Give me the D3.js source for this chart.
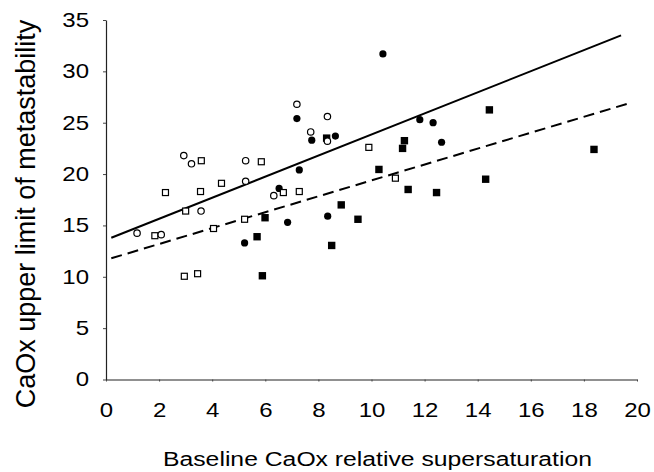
<!DOCTYPE html>
<html>
<head>
<meta charset="utf-8">
<script src="https://cdn.jsdelivr.net/npm/d3@7"></script>
<style>
  body { margin: 0; background: #fff; }
  text { font-family: "Liberation Sans", Arial, sans-serif; fill: #000; }
</style>
</head>
<body>
<div id="chart"></div>
<script>
// open circles [x, y]
const openCircles = [
  [1.17, 14.25], [2.08, 14.1], [2.93, 21.8], [3.22, 21.0], [3.58, 16.4],
  [5.26, 21.3], [5.26, 19.3], [6.32, 17.9], [7.19, 26.8], [7.71, 24.1],
  [8.34, 25.6], [8.34, 23.2]
];
// open squares
const openSquares = [
  [1.84, 14.0], [2.24, 18.2], [2.95, 10.05], [3.0, 16.4], [3.45, 10.3],
  [3.59, 21.3], [3.56, 18.3], [4.05, 14.7], [4.35, 19.1], [5.22, 15.6],
  [5.85, 21.2], [6.68, 18.2], [7.28, 18.3], [9.9, 22.6], [10.9, 19.6]
];
// filled circles
const filledCircles = [
  [5.22, 13.3], [6.52, 18.6], [6.84, 15.3], [7.19, 25.4], [7.28, 20.4],
  [7.75, 23.3], [8.64, 23.7], [8.35, 15.9], [10.43, 31.7], [11.82, 25.3],
  [12.32, 25.0], [12.64, 23.1]
];
// filled squares
const filledSquares = [
  [5.69, 13.9], [5.99, 15.75], [5.89, 10.1], [8.31, 23.5], [8.5, 13.05],
  [8.86, 17.0], [9.49, 15.6], [10.28, 20.45], [11.17, 22.5], [11.24, 23.25],
  [11.38, 18.5], [12.45, 18.2], [14.3, 19.5], [14.44, 26.25], [18.38, 22.4]
];
// regression lines (end points)
const solidLine = [[0.2, 13.8], [19.4, 33.5]];
const dashedLine = [[0.2, 11.8], [19.65, 26.85]];

const xTicks = [0, 2, 4, 6, 8, 10, 12, 14, 16, 18, 20];
const yTicks = [0, 5, 10, 15, 20, 25, 30, 35];

const width = 654, height = 472;
const margin = { top: 20, left: 106, right: 17, bottom: 92.5 };

const svg = d3.select('#chart').append('svg')
  .attr('width', width)
  .attr('height', height);

const x = d3.scaleLinear().domain([0, 20]).range([margin.left, width - margin.right]);
const y = d3.scaleLinear().domain([0, 35]).range([height - margin.bottom, margin.top]);

// axes
const xAxis = svg.append('g')
  .attr('transform', `translate(0,${y(0)})`)
  .call(d3.axisBottom(x).tickValues(xTicks).tickSize(2).tickSizeOuter(0));
xAxis.select('.domain').attr('stroke', '#222').attr('stroke-width', 1.2);
xAxis.selectAll('.tick line').attr('stroke', '#444');
xAxis.selectAll('.tick text')
  .attr('y', 23.5)
  .attr('dy', '0.71em')
  .attr('transform', 'scale(1.2,1)')
  .style('font-size', '20px');

const yAxis = svg.append('g')
  .attr('transform', `translate(${x(0)},0)`)
  .call(d3.axisLeft(y).tickValues(yTicks).tickSize(3).tickSizeOuter(0));
yAxis.select('.domain').attr('stroke', '#222').attr('stroke-width', 1.2);
yAxis.selectAll('.tick line').attr('stroke', '#444');
yAxis.selectAll('.tick text')
  .attr('x', -17 / 1.2)
  .attr('transform', 'scale(1.2,1)')
  .style('font-size', '20px');

// regression lines
const line = d3.line().x(d => x(d[0])).y(d => y(d[1]));
svg.append('path')
  .datum(solidLine)
  .attr('d', line)
  .attr('fill', 'none')
  .attr('stroke', '#000')
  .attr('stroke-width', 2);
svg.append('path')
  .datum(dashedLine)
  .attr('d', line)
  .attr('fill', 'none')
  .attr('stroke', '#000')
  .attr('stroke-width', 2)
  .attr('stroke-dasharray', '11,6');

// markers
const pts = svg.append('g');
pts.selectAll('.fsq')
  .data(filledSquares)
  .join('rect')
  .attr('class', 'fsq')
  .attr('x', d => x(d[0]) - 3.7)
  .attr('y', d => y(d[1]) - 3.7)
  .attr('width', 7.4)
  .attr('height', 7.4)
  .attr('fill', '#000');

pts.selectAll('.fci')
  .data(filledCircles)
  .join('circle')
  .attr('class', 'fci')
  .attr('cx', d => x(d[0]))
  .attr('cy', d => y(d[1]))
  .attr('r', 3.6)
  .attr('fill', '#000');

pts.selectAll('.osq')
  .data(openSquares)
  .join('rect')
  .attr('class', 'osq')
  .attr('x', d => x(d[0]) - 3)
  .attr('y', d => y(d[1]) - 3)
  .attr('width', 6)
  .attr('height', 6)
  .attr('fill', '#fff')
  .attr('stroke', '#000')
  .attr('stroke-width', 1.2);

pts.selectAll('.oci')
  .data(openCircles)
  .join('circle')
  .attr('class', 'oci')
  .attr('cx', d => x(d[0]))
  .attr('cy', d => y(d[1]))
  .attr('r', 3.2)
  .attr('fill', '#fff')
  .attr('stroke', '#000')
  .attr('stroke-width', 1.2);

// titles
svg.append('text')
  .attr('x', 377.5)
  .attr('y', 466)
  .attr('text-anchor', 'middle')
  .attr('textLength', 429)
  .attr('lengthAdjust', 'spacingAndGlyphs')
  .style('font-size', '20px')
  .text('Baseline CaOx relative supersaturation');

svg.append('text')
  .attr('transform', 'translate(35,214) rotate(-90)')
  .attr('text-anchor', 'middle')
  .style('font-size', '27px')
  .text('CaOx upper limit of metastability');
</script>
</body>
</html>
